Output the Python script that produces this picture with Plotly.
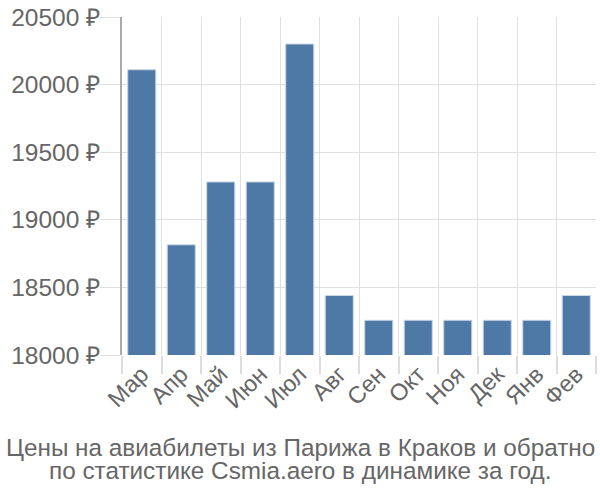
import plotly.graph_objects as go

months = ["Мар", "Апр", "Май", "Июн", "Июл", "Авг", "Сен", "Окт", "Ноя", "Дек", "Янв", "Фев"]
prices = [20110, 18815, 19280, 19280, 20300, 18440, 18257, 18257, 18257, 18257, 18257, 18440]
y_ticks = [18000, 18500, 19000, 19500, 20000, 20500]
title_lines = ["Цены на авиабилеты из Парижа в Краков и обратно",
               "по статистике Csmia.aero в динамике за год."]

fig = go.Figure()
fig.add_trace(go.Bar(
    x=months, y=prices,
    marker=dict(color="#4e79a7", line=dict(color="#c9d6e6", width=1)),
))

font = "Liberation Sans, Arial, sans-serif"
plot_h = 500 - 14 - 145
plot_w = 600 - 122 - 4
title_y_px = [448, 472]
fig.update_layout(
    width=600, height=500,
    margin=dict(l=122, r=4, t=14, b=145),
    paper_bgcolor="white", plot_bgcolor="white",
    bargap=0.29,
    showlegend=False,
    font=dict(family=font, size=24, color="#666666"),
    xaxis=dict(
        type="category",
        tickson="boundaries",
        showgrid=True, gridcolor="#e0e0e0", gridwidth=1,
        ticks="outside", ticklen=18, tickcolor="#dddddd", tickwidth=2,
        tickangle=-45,
        tickfont=dict(size=23.5, color="#666666"),
        showline=False,
    ),
    yaxis=dict(
        range=[18000, 20500],
        tickvals=y_ticks,
        ticktext=[f"{v} ₽" for v in y_ticks],
        showgrid=True, gridcolor="#e0e0e0", gridwidth=1,
        ticks="outside", ticklen=20, tickcolor="#e0e0e0",
        ticklabelstandoff=-5,
        tickfont=dict(size=24.5, color="#666666"),
        showline=True, linecolor="#aaaaaa", linewidth=2,
        zeroline=False,
    ),
    annotations=[dict(
        text=line,
        xref="paper", yref="paper",
        x=(300 - 122) / plot_w, y=(355 - ypx) / plot_h,
        xanchor="center", yanchor="middle", showarrow=False,
        font=dict(size=24.3, color="#666666"),
    ) for line, ypx in zip(title_lines, title_y_px)],
)

fig.write_html("out.html")
